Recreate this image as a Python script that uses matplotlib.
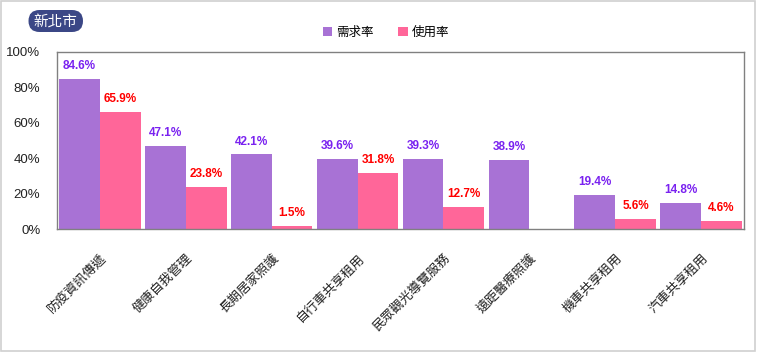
import matplotlib
matplotlib.use("Agg")
import matplotlib.pyplot as plt
import numpy as np
from matplotlib.patches import FancyBboxPatch

plt.rcParams['font.family'] = ['Liberation Sans', 'Noto Sans CJK TC', 'DejaVu Sans']

categories = ['防疫資訊傳遞', '健康自我管理', '長期居家照護', '自行車共享租用',
              '民眾觀光導覽服務', '遠距醫療照護', '機車共享租用', '汽車共享租用']
demand = [84.6, 47.1, 42.1, 39.6, 39.3, 38.9, 19.4, 14.8]
usage = [65.9, 23.8, 1.5, 31.8, 12.7, np.nan, 5.6, 4.6]
series_names = ['需求率', '使用率']
yticks = [0, 20, 40, 60, 80, 100]
ytick_labels = ['0%', '20%', '40%', '60%', '80%', '100%']
title = '新北市'

c_demand = '#a872d5'
c_usage = '#ff6699'
t_demand = '#7a22f0'
t_usage = '#ff0000'

fig = plt.figure(figsize=(7.57, 3.52), dpi=100)
fig.patch.set_facecolor('white')
fig.add_artist(plt.Rectangle((0.001, 0.002), 0.996, 0.995, transform=fig.transFigure,
                             fill=False, edgecolor='#d0d0d0', linewidth=1.2))

ax = fig.add_axes([57/757, 1-229/352, (744-57)/757, (229-52)/352])
x = np.arange(len(categories))
w = 0.475
b1 = ax.bar(x - w/2, demand, w, color=c_demand, label=series_names[0])
b2 = ax.bar(x + w/2, usage, w, color=c_usage, label=series_names[1])

for xi, v in zip(x - w/2, demand):
    ax.annotate(f'{v:.1f}%', (xi, v), xytext=(0, 5), textcoords='offset points',
                ha='center', va='bottom', fontsize=8.5, fontweight='bold', color=t_demand)
for xi, v in zip(x + w/2, usage):
    if np.isnan(v):
        continue
    ax.annotate(f'{v:.1f}%', (xi, v), xytext=(0, 5), textcoords='offset points',
                ha='center', va='bottom', fontsize=8.5, fontweight='bold', color=t_usage)

ax.set_xlim(-0.5, len(categories) - 0.5)
ax.set_ylim(0, 100)
ax.set_yticks(yticks)
ax.set_yticklabels(ytick_labels, fontsize=9.5, color='#222222')
ax.set_xticks(x)
ax.set_xticklabels(categories, rotation=45, ha='right', rotation_mode='anchor',
                   fontsize=9.3, family=['Noto Sans CJK TC', 'DejaVu Sans'], color='#222222')
ax.tick_params(axis='both', length=0)
ax.tick_params(axis='x', pad=16)
ax.tick_params(axis='y', pad=12)
for s in ax.spines.values():
    s.set_edgecolor('#808080')
    s.set_linewidth(1.0)

leg = fig.legend(handles=[b1, b2], labels=series_names, loc='center',
                 bbox_to_anchor=(386/757, 1-32/352), ncol=2, frameon=False,
                 handlelength=0.75, handleheight=0.75, handletextpad=0.3, columnspacing=2.0,
                 prop={'family': ['Noto Sans CJK TC', 'DejaVu Sans'], 'size': 9})

# title badge (pill)
fig.add_artist(FancyBboxPatch((0.285, 3.20), 0.545, 0.22,
                              boxstyle='round,pad=0,rounding_size=0.11',
                              transform=fig.dpi_scale_trans, facecolor='#3b4786',
                              edgecolor='none'))
fig.text(55.5/757, 1-21.5/352, title, ha='center', va='center', color='white',
         fontsize=10.5, family=['Noto Sans CJK TC', 'DejaVu Sans'])

fig.savefig('out.png', dpi=100)
